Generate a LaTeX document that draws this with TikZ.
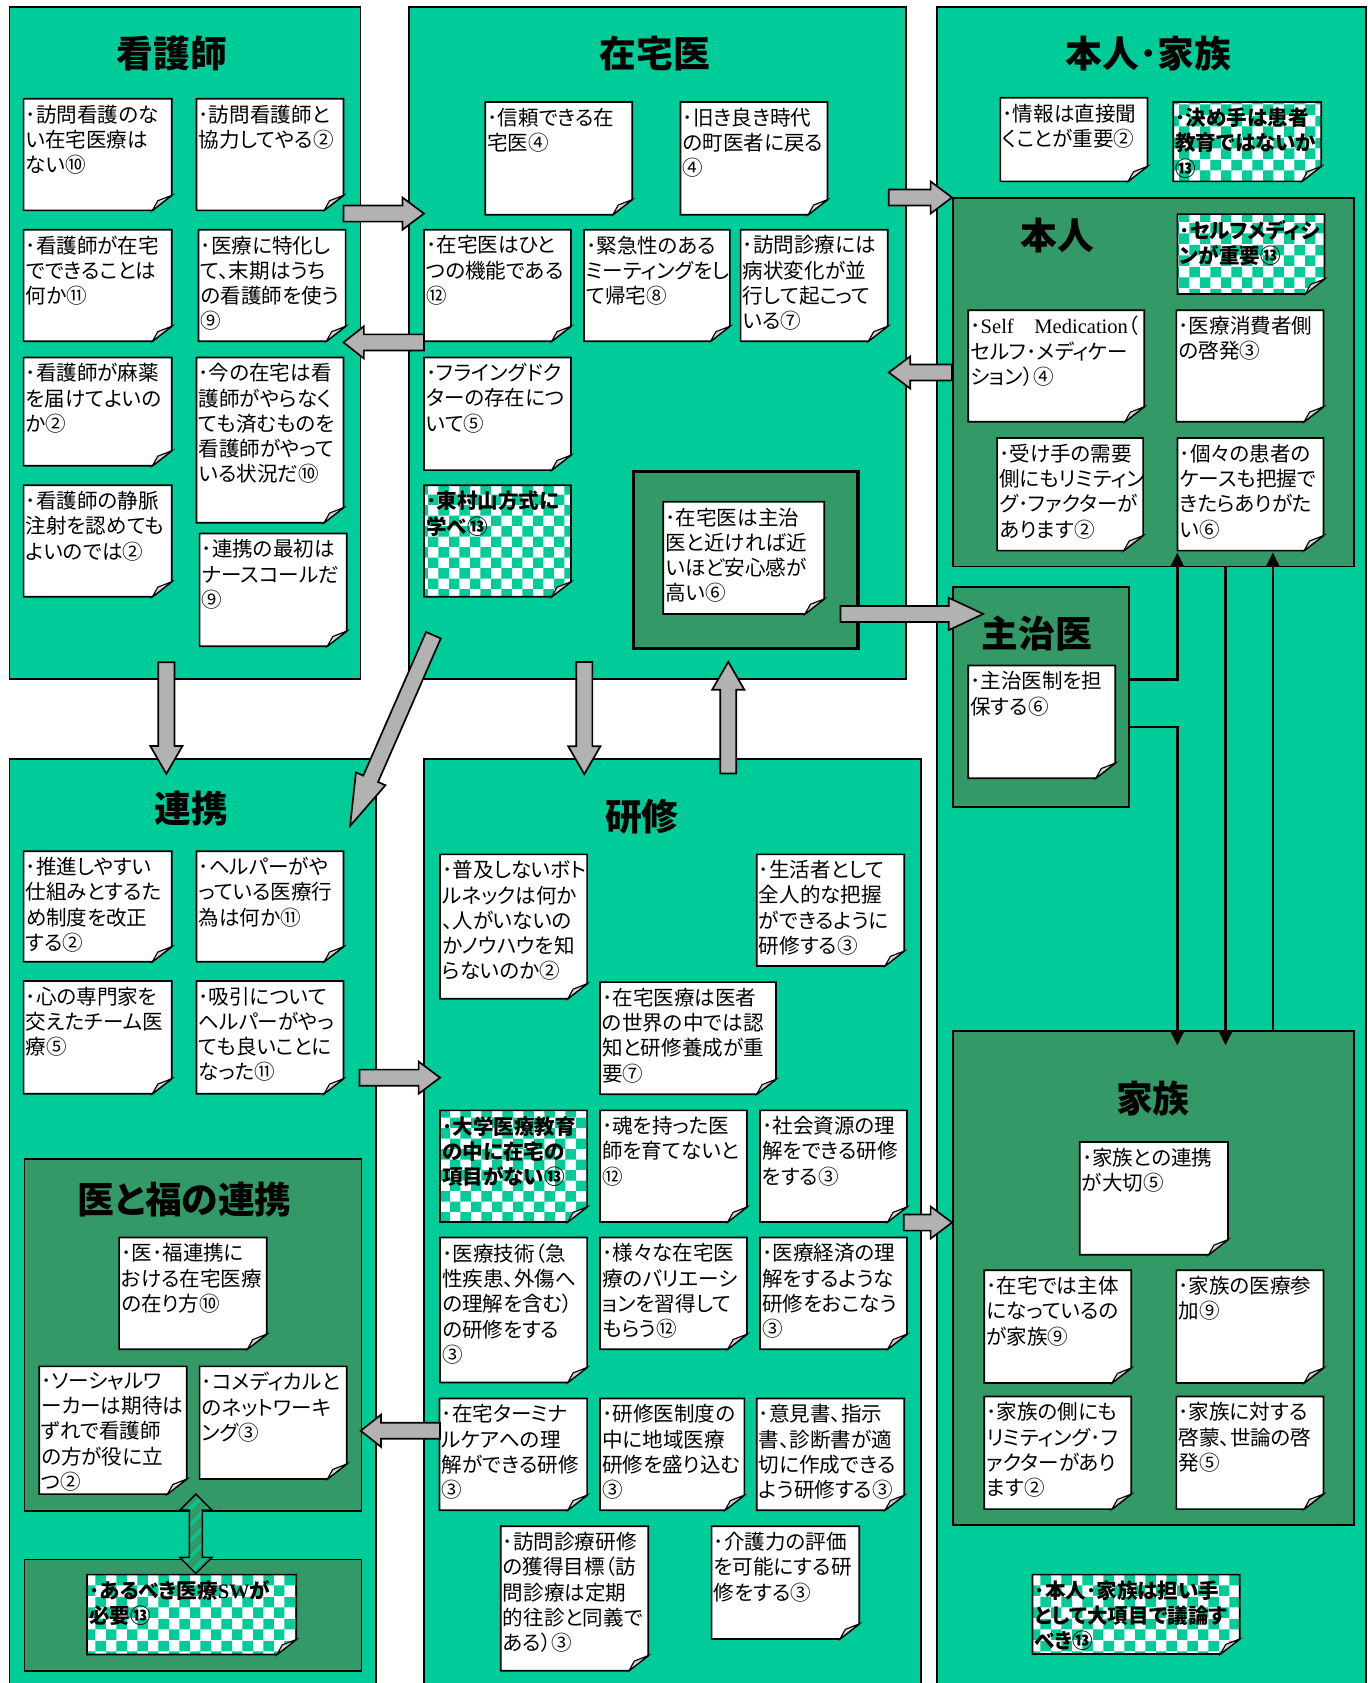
\documentclass[tikz,border=0pt]{standalone}
\usepackage{fontspec}
\setmainfont{Noto Sans CJK JP}[RawFeature=+palt]
\newfontfamily\latinfont{Liberation Serif}
\usetikzlibrary{positioning, calc, arrows.meta, patterns, patterns.meta}

\definecolor{mint}{RGB}{0,204,153}
\definecolor{pine}{RGB}{51,153,102}
\definecolor{arrowgray}{RGB}{178,178,178}

\tikzset{
	panel/.style={draw, line width=1pt, fill=mint, anchor=north west, inner sep=0pt},
	subpanel/.style={panel, fill=pine},
	heading/.style={font=\fontsize{19.5}{22}\selectfont\bfseries},
	memo paper/.style={draw, line width=0.9pt, fill=white},
	memo text/.style={font=\fontsize{10.9}{13.4}\selectfont},
	checker/.style={memo paper/.append style={preaction={fill=white}, pattern=checkerboard, pattern color=mint},
		memo text/.append style={font=\fontsize{10.9}{13.4}\selectfont\bfseries}},
	link/.style={line width=1.4pt, -{Triangle[length=0.26cm, width=0.24cm]}},
	pics/memo/.style n args={3}{code={
		\path[memo paper] (0,0) -- (#1,0) -- (#1,#2-14) -- (#1-18,#2) -- (0,#2) -- cycle;
		\path[draw, line width=0.6pt, fill=gray!35] (#1-18,#2) -- (#1,#2-14) -- (#1-13,#2-9) -- cycle;
		\node[memo text, anchor=north west, align=left, inner xsep=1pt, inner ysep=3pt] (-t) at (0,0) {#3};
		\coordinate (-sw) at (0,#2);
	}},
	pics/fatarrow/.style 2 args={code={
		\path[draw, line width=0.9pt, fill=arrowgray] (0,-7.5) -- (#1-#2,-7.5) -- (#1-#2,-15) -- (#1,0) -- (#1-#2,15) -- (#1-#2,7.5) -- (0,7.5) -- cycle;
	}},
	pics/twinarrow/.style={code={
		\path[draw, line width=0.8pt, preaction={fill=pine}, pattern={Lines[angle=45,distance=6pt,line width=2pt]}, pattern color=mint!80!pine]
			(0,0) -- (15,15) -- (6,15) -- (6,#1-15) -- (15,#1-15) -- (0,#1) -- (-15,#1-15) -- (-6,#1-15) -- (-6,15) -- (-15,15) -- cycle;
	}},
}

\begin{document}
\begin{tikzpicture}[x=0.02cm, y=-0.02cm]
	\useasboundingbox (0,0) rectangle (1274,1568);
	\fill[white] (0,0) rectangle (1274,1568);

	\coordinate (kango)   at (8, 6);
	\coordinate (zaitaku) at (380, 6);
	\coordinate (honke)   at (872, 6);
	\coordinate (renkei)  at (8, 706.5);
	\coordinate (kenshu)  at (394.4, 706.5);

	\node[panel, minimum width=6.54cm, minimum height=12.512cm] (KAN) at (kango) {};
	\node[panel, minimum width=9.26cm, minimum height=12.512cm] (ZAI) at (zaitaku) {};
	\node[panel, minimum width=8cm, minimum height=31.6cm] (HON) at (honke) {};
	\node[panel, minimum width=6.83cm, minimum height=17.6cm] (REN) at (renkei) {};
	\node[panel, minimum width=9.262cm, minimum height=17.6cm] (KEN) at (kenshu) {};

	\node[subpanel, minimum width=7.472cm, minimum height=6.86cm] (PER) at (887,184) {};
	\node[subpanel, minimum width=3.28cm, minimum height=4.1cm] (SHU) at (887,546) {};
	\node[subpanel, minimum width=7.472cm, minimum height=9.2cm] (FAM) at (887,960) {};
	\node[subpanel, line width=1.8pt, minimum width=4.19cm, minimum height=3.3cm] (ZBX) at (588.5,437.5) {};
	\node[subpanel, minimum width=6.28cm, minimum height=6.56cm] (IFK) at (22,1079) {};
	\node[subpanel, minimum width=6.28cm, minimum height=2.08cm] (SWB) at (22,1452) {};

	\node[heading] (KAN-t) at (160,50) {看護師};
	\node[heading] (ZAI-t) at (610,50) {在宅医};
	\node[heading] (HON-t) at (1070,50) {本人･家族};
	\node[heading] (PER-t) at (985,219) {本人};
	\node[heading] (SHU-t) at (966,590) {主治医};
	\node[heading] (FAM-t) at (1074,1023) {家族};
	\node[heading] (REN-t) at (178,753) {連携};
	\node[heading] (KEN-t) at (598,761) {研修};
	\node[heading] (IFK-t) at (172,1118) {医と福の連携};

	\pic (n1) at (22,92) {memo={138}{104}{･訪問看護のな\\い在宅医療は\\ない⑩}};
	\pic (n2) at (183,92) {memo={137}{104}{･訪問看護師と\\協力してやる②}};
	\pic (n3) at (22,214) {memo={138}{104}{･看護師が在宅\\でできることは\\何か⑪}};
	\pic (n4) at (185,214) {memo={137}{104}{･医療に特化し\\て、末期はうち\\の看護師を使う\\⑨}};
	\pic (n5) at (22,333) {memo={138}{101}{･看護師が麻薬\\を届けてよいの\\か②}};
	\pic (n6) at (183,333) {memo={137}{154}{･今の在宅は看\\護師がやらなく\\ても済むものを\\看護師がやって\\いる状況だ⑩}};
	\pic (n7) at (22,452) {memo={138}{104}{･看護師の静脈\\注射を認めても\\よいのでは②}};
	\pic (n8) at (186,497) {memo={137}{105}{･連携の最初は\\ナースコールだ\\⑨}};

	\pic (z1) at (452,95) {memo={137}{105}{･信頼できる在\\宅医④}};
	\pic (z2) at (634,95) {memo={137}{105}{･旧き良き時代\\の町医者に戻る\\④}};
	\pic (z3) at (395,214) {memo={137}{104}{･在宅医はひと\\つの機能である\\⑫}};
	\pic (z4) at (544,214) {memo={136}{104}{･緊急性のある\\ミーティングをし\\て帰宅⑧}};
	\pic (z5) at (690,214) {memo={137}{104}{･訪問診療には\\病状変化が並\\行して起こって\\いる⑦}};
	\pic (z6) at (395,333) {memo={137}{105}{･フライングドク\\ターの存在につ\\いて⑤}};
	\pic[checker] (z7) at (395,452) {memo={137}{104}{･東村山方式に\\学べ⑬}};
	\pic (z8) at (618,467.5) {memo={150}{104.5}{･在宅医は主治\\医と近ければ近\\いほど安心感が\\高い⑥}};

	\pic (h1) at (932,91) {memo={137}{78}{･情報は直接聞\\くことが重要②}};
	\pic[checker] (h2) at (1093,95) {memo={138}{74}{･決め手は患者\\教育ではないか\\⑬}};
	\pic[checker] (h3) at (1097,199.5) {memo={137}{74.5}{･セルフメディシ\\ンが重要⑬}};
	\pic (h4) at (902,289) {memo={164}{104}{･{\latinfont Self}　{\latinfont Medication}（\\セルフ･メディケー\\ション）④}};
	\pic (h5) at (1096,289) {memo={137}{104}{･医療消費者側\\の啓発③}};
	\pic (h6) at (929,408) {memo={136}{105}{･受け手の需要\\側にもリミティン\\グ･ファクターが\\あります②}};
	\pic (h7) at (1097,408) {memo={136}{105}{･個々の患者の\\ケースも把握で\\きたらありがた\\い⑥}};
	\pic (j1) at (902,620) {memo={137}{105}{･主治医制を担\\保する⑥}};

	\pic (e1) at (1006,1064) {memo={138}{105}{･家族との連携\\が大切⑤}};
	\pic (e2) at (917,1183.5) {memo={137}{105}{･在宅では主体\\になっているの\\が家族⑨}};
	\pic (e3) at (1096,1183.5) {memo={137}{105}{･家族の医療参\\加⑨}};
	\pic (e4) at (917,1301) {memo={137}{105}{･家族の側にも\\リミティング･フ\\ァクターがあり\\ます②}};
	\pic (e5) at (1096,1301) {memo={137}{105}{･家族に対する\\啓蒙、世論の啓\\発⑤}};
	\pic[checker] (e6) at (962,1467) {memo={193}{74}{･本人･家族は担い手\\として大項目で議論す\\べき⑬}};

	\pic (k1) at (410,796) {memo={137}{134.5}{･普及しないボト\\ルネックは何か\\、人がいないの\\かノウハウを知\\らないのか②}};
	\pic (k2) at (705,796) {memo={137.5}{104}{･生活者として\\全人的な把握\\ができるように\\研修する③}};
	\pic (k3) at (559,915) {memo={164}{104.5}{･在宅医療は医者\\の世界の中では認\\知と研修養成が重\\要⑦}};
	\pic[checker] (k4) at (410,1034.5) {memo={137}{104}{･大学医療教育\\の中に在宅の\\項目がない⑬}};
	\pic (k5) at (559,1034.5) {memo={137}{104}{･魂を持った医\\師を育てないと\\⑫}};
	\pic (k6) at (708,1034.5) {memo={137}{104}{･社会資源の理\\解をできる研修\\をする③}};
	\pic (k7) at (410,1153) {memo={137}{135}{･医療技術（急\\性疾患、外傷へ\\の理解を含む）\\の研修をする\\③}};
	\pic (k8) at (559,1153) {memo={137}{104}{･様々な在宅医\\療のバリエーシ\\ョンを習得して\\もらう⑫}};
	\pic (k9) at (708,1153) {memo={137}{104}{･医療経済の理\\解をするような\\研修をおこなう\\③}};
	\pic (k10) at (409.5,1303) {memo={137.5}{104}{･在宅ターミナ\\ルケアへの理\\解ができる研修\\③}};
	\pic (k11) at (559,1303) {memo={134.5}{104}{･研修医制度の\\中に地域医療\\研修を盛り込む\\③}};
	\pic (k12) at (705,1303) {memo={137.5}{104}{･意見書、指示\\書、診断書が適\\切に作成できる\\よう研修する③}};
	\pic (k13) at (466.5,1422) {memo={137.5}{134.5}{･訪問診療研修\\の獲得目標（訪\\問診療は定期\\的往診と同義で\\ある）③}};
	\pic (k14) at (663,1422) {memo={137.5}{105}{･介護力の評価\\を可能にする研\\修をする③}};

	\pic (r1) at (22,793) {memo={138}{103}{･推進しやすい\\仕組みとするた\\め制度を改正\\する②}};
	\pic (r2) at (183,793) {memo={137}{103}{･ヘルパーがや\\っている医療行\\為は何か⑪}};
	\pic (r3) at (22,914) {memo={138}{105}{･心の専門家を\\交えたチーム医\\療⑤}};
	\pic (r4) at (183,914) {memo={137}{105}{･吸引について\\ヘルパーがやっ\\ても良いことに\\なった⑪}};
	\pic (f1) at (111,1153) {memo={137.5}{104}{･医･福連携に\\おける在宅医療\\の在り方⑩}};
	\pic (f2) at (36.5,1273) {memo={137.5}{119}{･ソーシャルワ\\ーカーは期待は\\ずれで看護師\\の方が役に立\\つ②}};
	\pic (f3) at (186,1273) {memo={137}{105}{･コメディカルと\\のネットワーキ\\ング③}};
	\pic[checker] (f4) at (81,1467) {memo={195}{74.5}{･あるべき医療{\latinfont\bfseries SW}が\\必要⑬}};

	\pic at (320,199) {fatarrow={75}{20}};
	\pic[rotate=180] at (395,319) {fatarrow={75}{19}};
	\pic at (828,184) {fatarrow={59}{20}};
	\pic[rotate=180] at (887,347) {fatarrow={59}{20}};
	\pic at (783,572) {fatarrow={133}{32}};
	\pic[rotate=90] at (678.5,720.6) {fatarrow={104}{26}};
	\pic[rotate=-90] at (544.4,616.7) {fatarrow={104.6}{26}};
	\pic[rotate=-90] at (155,617) {fatarrow={104}{26}};
	\pic[rotate=246.4] at (403.8,591.8) {fatarrow={194}{48}};
	\pic at (335,1004) {fatarrow={75}{20}};
	\pic[rotate=180] at (410,1333) {fatarrow={74}{19}};
	\pic at (842,1139) {fatarrow={45}{20}};
	\pic at (182.5,1392) {twinarrow=74};

	\draw[link] ($(SHU.east)+(0,-16.5)$) -| ($(PER.south)+(22.2,-14)$);
	\draw[link] ($(SHU.east)+(0,28)$) -| ($(FAM.north)+(22.2,14)$);
	\draw[link] ($(PER.south)+(67.2,0)$) -- ($(FAM.north)+(67.2,14)$);
	\draw[link] ($(FAM.north)+(111.2,0)$) -- ($(PER.south)+(111.2,-14)$);
\end{tikzpicture}
\end{document}
